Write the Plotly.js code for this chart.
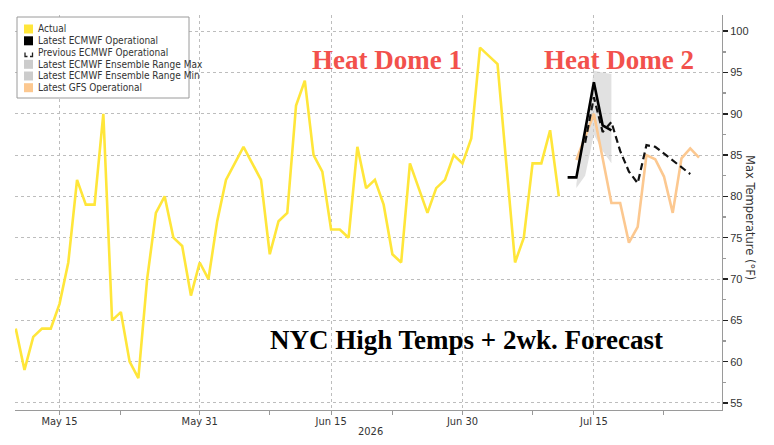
<!DOCTYPE html>
<html>
<head>
<meta charset="utf-8">
<script src="https://cdn.plot.ly/plotly-3.0.1.min.js"></script>
<style>
  html, body { margin: 0; padding: 0; background: #fff; }
  #chart { width: 774px; height: 445px; }
</style>
</head>
<body>
<div id="chart"></div>
<script>
// NYC daily high temperatures (°F) with the ECMWF / GFS two-week outlook.
const actualStart = '2026-05-10';
const actualTemps = [
  64, 59, 63, 64, 64, 67, 72, 82, 79, 79,
  90, 65, 66, 60, 58, 70, 78, 80, 75, 74,
  68, 72, 70, 77, 82, 84, 86, 84, 82, 73,
  77, 78, 91, 94, 85, 83, 76, 76, 75, 86,
  81, 82, 79, 73, 72, 84, 81, 78, 81, 82,
  85, 84, 87, 98, 97, 96, 84, 72, 75, 84,
  84, 88, 80
];

const ecmwfStart = '2026-07-12';
const ecmwfLatest = [82.3, 82.3, 88.0, 93.8, 88.6, 88.0];

const ecmwfPrevStart = '2026-07-14';
const ecmwfPrevious = [86.5, 92.0, 87.8, 89.0, 85.5, 83.0, 81.6, 86.2, 86.0, 85.2, 84.4, 83.5, 82.7];

const ensembleStart = '2026-07-13';
const ensembleMax = [81.5, 88.5, 95.2, 95.0, 94.8];
const ensembleMin = [81.0, 82.5, 87.5, 85.5, 84.0];

const gfsStart = '2026-07-13';
const gfsTemps = [84.4, 87.2, 90.0, 84.6, 79.2, 79.2, 74.4, 76.3, 85.0, 84.5, 82.4, 78.0, 84.6, 85.8, 84.7];

const xTickDates = ['2026-05-15', '2026-05-31', '2026-06-15', '2026-06-30', '2026-07-15'];
const xTickLabels = ['May 15', 'May 31', 'Jun 15', 'Jun 30', 'Jul 15'];
const xMinorDates = ['2026-05-22', '2026-06-08', '2026-06-22', '2026-07-08', '2026-07-23'];
const yTicks = [55, 60, 65, 70, 75, 80, 85, 90, 95, 100];

const legendItems = ['Actual', 'Latest ECMWF Operational', 'Previous ECMWF Operational',
  'Latest ECMWF Ensemble Range Max', 'Latest ECMWF Ensemble Range Min', 'Latest GFS Operational'];

// consecutive daily date strings starting at `start`
function dailyDates(start, n) {
  const out = [];
  const d0 = new Date(start + 'T00:00:00Z');
  for (let i = 0; i < n; i++) {
    const d = new Date(d0.getTime() + i * 86400000);
    out.push(d.toISOString().slice(0, 10));
  }
  return out;
}

const YELLOW = '#ffe63a';
const ORANGE = '#fcc890';
const BAND = 'rgba(205,205,205,0.6)';
const NARROW = '"Liberation Sans Narrow", "DejaVu Sans Condensed", "Arial Narrow", sans-serif';

const W = 774, H = 445;
const M = { l: 15, r: 52, t: 15, b: 35 };
const PW = W - M.l - M.r, PH = H - M.t - M.b;
const px = x => (x - M.l) / PW;
const py = y => 1 - (y - M.t) / PH;

const traces = [
  {
    x: dailyDates(ensembleStart, ensembleMax.length), y: ensembleMax,
    type: 'scatter', mode: 'lines', line: { width: 0, color: BAND },
    hoverinfo: 'skip', showlegend: false
  },
  {
    x: dailyDates(ensembleStart, ensembleMin.length), y: ensembleMin,
    type: 'scatter', mode: 'lines', line: { width: 0, color: BAND },
    fill: 'tonexty', fillcolor: BAND, showlegend: false
  },
  {
    x: dailyDates(actualStart, actualTemps.length), y: actualTemps,
    type: 'scatter', mode: 'lines', line: { color: YELLOW, width: 2.6 }, showlegend: false
  },
  {
    x: dailyDates(gfsStart, gfsTemps.length), y: gfsTemps,
    type: 'scatter', mode: 'lines', line: { color: ORANGE, width: 2.6 }, showlegend: false
  },
  {
    x: dailyDates(ecmwfStart, ecmwfLatest.length), y: ecmwfLatest,
    type: 'scatter', mode: 'lines', line: { color: '#000', width: 2.6 }, showlegend: false
  },
  {
    x: dailyDates(ecmwfPrevStart, ecmwfPrevious.length), y: ecmwfPrevious,
    type: 'scatter', mode: 'lines', line: { color: '#111', width: 2.2, dash: '7px,4px' }, showlegend: false
  }
];

// hand-built legend box in the upper left
const shapes = [{
  type: 'rect', xref: 'paper', yref: 'paper', layer: 'above',
  x0: px(17), x1: px(189), y0: py(98), y1: py(17),
  line: { color: '#9a9a9a', width: 1 }, fillcolor: '#ffffff'
}];
const annotations = [];
const rowY = [29, 40.8, 52.5, 64.3, 76, 87.7];
const swatchColors = [YELLOW, '#000000', null, '#cccccc', '#cccccc', ORANGE];
legendItems.forEach((label, i) => {
  const cy = rowY[i];
  if (swatchColors[i]) {
    shapes.push({
      type: 'rect', xref: 'paper', yref: 'paper', layer: 'above',
      x0: px(24), x1: px(33), y0: py(cy + 4.5), y1: py(cy - 4.5),
      line: { width: 0 }, fillcolor: swatchColors[i]
    });
  } else {
    shapes.push({
      type: 'path', xref: 'paper', yref: 'paper', layer: 'above',
      path: `M ${px(25)} ${py(cy)} L ${px(25)} ${py(cy + 4)} L ${px(27.5)} ${py(cy + 4)} ` +
            `M ${px(30)} ${py(cy + 4)} L ${px(32.5)} ${py(cy + 4)} L ${px(32.5)} ${py(cy)}`,
      line: { color: '#222', width: 1.3 }
    });
  }
  annotations.push({
    xref: 'paper', yref: 'paper', x: px(35.5), y: py(cy), xanchor: 'left', yanchor: 'middle',
    text: label, showarrow: false, font: { family: NARROW, size: 10, color: '#333' }
  });
});

annotations.push(
  {
    xref: 'paper', yref: 'paper', x: px(387), y: py(60), xanchor: 'center', yanchor: 'middle',
    text: '<b>Heat Dome 1</b>', showarrow: false,
    font: { family: '"Liberation Serif", "DejaVu Serif", serif', size: 27, color: '#f2514c' }
  },
  {
    xref: 'paper', yref: 'paper', x: px(619), y: py(60), xanchor: 'center', yanchor: 'middle',
    text: '<b>Heat Dome 2</b>', showarrow: false,
    font: { family: '"Liberation Serif", "DejaVu Serif", serif', size: 27, color: '#f2514c' }
  },
  {
    xref: 'paper', yref: 'paper', x: px(466), y: py(340), xanchor: 'center', yanchor: 'middle',
    text: '<b>NYC High Temps + 2wk. Forecast</b>', showarrow: false,
    font: { family: '"Liberation Serif", "DejaVu Serif", serif', size: 27, color: '#000' }
  },
  {
    xref: 'paper', yref: 'paper', x: px(370), y: py(431), xanchor: 'center', yanchor: 'middle',
    text: '2026', showarrow: false, font: { family: NARROW, size: 11, color: '#333' }
  },
  {
    xref: 'paper', yref: 'paper', x: px(750), y: py(217), xanchor: 'center', yanchor: 'middle',
    text: 'Max Temperature (°F)', textangle: 90, showarrow: false,
    font: { family: '"DejaVu Sans", sans-serif', size: 11.5, color: '#333' }
  }
);

const layout = {
  width: W, height: H,
  margin: M,
  paper_bgcolor: '#ffffff', plot_bgcolor: '#ffffff',
  showlegend: false,
  xaxis: {
    type: 'date',
    range: ['2026-05-09 22:00', '2026-07-29 15:00'],
    tickmode: 'array', tickvals: xTickDates, ticktext: xTickLabels,
    ticks: 'outside', ticklen: 4, tickcolor: '#999', tickwidth: 1,
    ticklabelstandoff: -3,
    tickfont: { family: NARROW, size: 11, color: '#333' },
    showline: true, linecolor: '#9a9a9a', linewidth: 1,
    showgrid: true, gridcolor: '#bdbdbd', griddash: 'dot', gridwidth: 1,
    zeroline: false,
    minor: { tickmode: 'array', tickvals: xMinorDates, ticks: 'outside', ticklen: 4, tickcolor: '#999', showgrid: false }
  },
  yaxis: {
    side: 'right',
    range: [54.15, 101.95],
    tickmode: 'array', tickvals: yTicks,
    ticks: 'outside', ticklen: 5, tickcolor: '#222', tickwidth: 1.5,
    tickfont: { family: '"Liberation Sans", "DejaVu Sans", sans-serif', size: 11, color: '#333' },
    showline: true, linecolor: '#9a9a9a', linewidth: 1,
    showgrid: true, gridcolor: '#bdbdbd', griddash: 'dot', gridwidth: 1,
    zeroline: false,
    minor: { dtick: 2.5, tick0: 55, ticks: 'outside', ticklen: 3, tickcolor: '#999', showgrid: false }
  },
  shapes: shapes,
  annotations: annotations
};

Plotly.newPlot('chart', traces, layout, { displayModeBar: false, staticPlot: true });
</script>
</body>
</html>
